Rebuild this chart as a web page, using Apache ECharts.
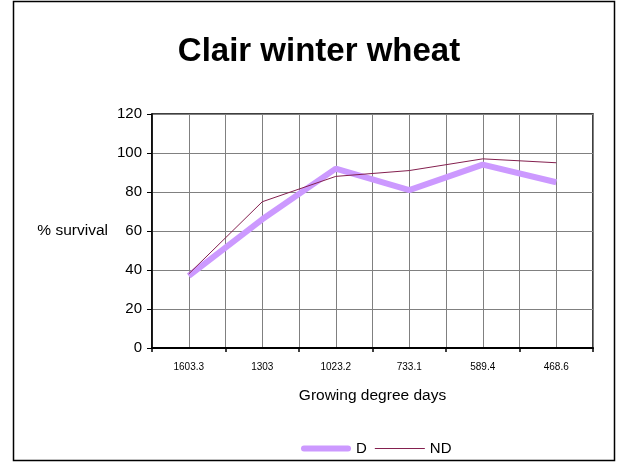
<!DOCTYPE html>
<html>
<head>
<meta charset="utf-8">
<script src="https://cdn.jsdelivr.net/npm/echarts@6/dist/echarts.min.js"></script>
<style>
html,body{margin:0;padding:0;background:#fff;}
#container{width:620px;height:465px;}
</style>
</head>
<body>
<div id="container"></div>
<script type="text/javascript">
var days = ['1603.3', '1303', '1023.2', '733.1', '589.4', '468.6'];
var dSurvival = [37, 66, 92, 81, 94, 85];
var ndSurvival = [38, 75, 88, 91, 97, 95];
var yTicks = [0, 20, 40, 60, 80, 100, 120];

var font = 'Liberation Sans, Arial, sans-serif';
var myChart = echarts.init(document.getElementById('container'));
var option = {
	backgroundColor: '#fff',
	animation: false,
	title: {
		text: 'Clair winter wheat',
		left: 314, top: 30, textAlign: 'center',
		textStyle: {fontFamily: font, fontSize: 33, fontWeight: 'bold', color: '#000'}
	},
	graphic: [{
		type: 'rect',
		shape: {x: 13.5, y: 1.5, width: 601, height: 459},
		style: {fill: 'none', stroke: '#000', lineWidth: 1.5},
		silent: true
	}],
	legend: {
		data: [
			{name: 'D', icon: 'path://M3,0H47A3,3 0 0 1 47,6H3A3,3 0 0 1 3,0Z'},
			{name: 'ND', icon: 'path://M0,0H0.05V0.05H0Z M0,2.5H50V3.5H0Z M49.95,5.95H50V6H49.95Z'}
		],
		left: 296, top: 436,
		itemWidth: 50, itemHeight: 6, itemGap: 8,
		textStyle: {fontFamily: font, fontSize: 15, color: '#000'}
	},
	grid: {
		left: 152, right: 27, top: 114, bottom: 117,
		show: true, borderColor: '#000', borderWidth: 1.5
	},
	xAxis: [{
		type: 'category',
		data: days,
		name: 'Growing degree days',
		nameLocation: 'middle',
		nameGap: 40,
		nameTextStyle: {fontFamily: font, fontSize: 15.5, color: '#000'},
		axisLine: {lineStyle: {color: '#000', width: 2}},
		axisTick: {show: true, length: 4, lineStyle: {color: '#000', width: 1.5}},
		axisLabel: {fontFamily: font, fontSize: 10, color: '#000', margin: 14},
		splitLine: {show: false}
	}, {
		type: 'value',
		min: 0, max: 12, interval: 1,
		axisLine: {show: false},
		axisTick: {show: false},
		axisLabel: {show: false},
		splitLine: {show: true, lineStyle: {color: '#808080', width: 1}}
	}],
	yAxis: {
		type: 'value',
		min: yTicks[0], max: yTicks[yTicks.length - 1], interval: 20,
		name: '% survival',
		nameLocation: 'middle',
		nameRotate: 0,
		nameGap: 44,
		nameTextStyle: {fontFamily: font, fontSize: 15.5, color: '#000', align: 'right'},
		axisLine: {show: true, lineStyle: {color: '#000', width: 1.5}},
		axisTick: {show: true, length: 5, lineStyle: {color: '#000'}},
		axisLabel: {fontFamily: font, fontSize: 15, color: '#000', margin: 10},
		splitLine: {show: true, lineStyle: {color: '#808080', width: 1}}
	},
	series: [
		{
			name: 'D',
			type: 'line',
			data: dSurvival,
			symbol: 'none',
			lineStyle: {color: '#cc99ff', width: 6},
			itemStyle: {color: '#cc99ff'}
		},
		{
			name: 'ND',
			type: 'line',
			data: ndSurvival,
			symbol: 'none',
			lineStyle: {color: '#84204f', width: 1},
			itemStyle: {color: '#84204f'}
		}
	]
};
myChart.setOption(option);
</script>
</body>
</html>
